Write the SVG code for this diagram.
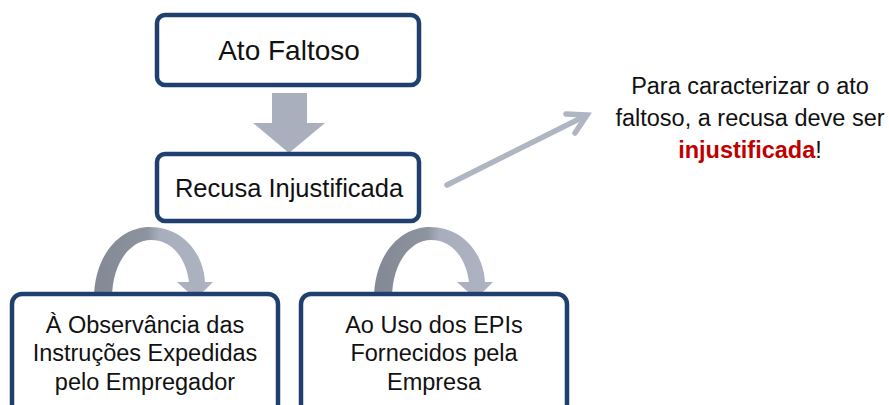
<svg xmlns="http://www.w3.org/2000/svg" width="889" height="405" viewBox="0 0 889 405">
<defs>
<style>
.box{fill:#fff;stroke:#1F406F;stroke-width:4.5}
.t{font-family:"Liberation Sans",Arial,sans-serif;fill:#111;text-anchor:middle}
.arc{fill:url(#g)}
</style>
<linearGradient id="g" x1="0" y1="0" x2="1" y2="0">
<stop offset="0" stop-color="#838895"/>
<stop offset="0.45" stop-color="#8E93A0"/>
<stop offset="0.55" stop-color="#A8AEBC"/>
<stop offset="1" stop-color="#ADB3C1"/>
</linearGradient>
</defs>
<rect width="889" height="405" fill="#fff"/>
<g id="connectors">
<path d="M272,93 H307 V123 H325 L289,153 L253,123 H272 Z" fill="#A9AFBD"/>
<path class="arc" d="M94,299 C94,255 120,227 150,227 C180,227 203,250 205,282 L213,282 L196,299 L177,282 L189,282 C186,258 172,240 151,240 C131,240 112,262 112,299 Z"/>
<path class="arc" transform="translate(280,0)" d="M94,299 C94,255 120,227 150,227 C180,227 203,250 205,282 L213,282 L196,299 L177,282 L189,282 C186,258 172,240 151,240 C131,240 112,262 112,299 Z"/>
<g stroke="#B0B5C3" stroke-width="5.5" fill="none" stroke-linecap="round" stroke-linejoin="miter">
<line x1="447" y1="185" x2="585" y2="116"/>
<polyline points="566,114 587,115 575,133"/>
</g>
</g>
<g id="n1">
<rect class="box" x="157" y="15" width="262" height="70" rx="8"/>
<text class="t" x="289" y="60" style="font-size:28px">Ato Faltoso</text>
</g>
<g id="n2">
<rect class="box" x="157" y="154" width="262" height="67" rx="8"/>
<text class="t" x="289" y="197" style="font-size:25.5px">Recusa Injustificada</text>
</g>
<g id="n3" style="font-size:23.5px">
<rect class="box" x="12" y="294" width="266" height="120" rx="10"/>
<text class="t" x="145" y="333">À Observância das</text>
<text class="t" x="145" y="361">Instruções Expedidas</text>
<text class="t" x="145" y="390">pelo Empregador</text>
</g>
<g id="n4" style="font-size:23.5px">
<rect class="box" x="301" y="294" width="266" height="120" rx="10"/>
<text class="t" x="434" y="333">Ao Uso dos EPIs</text>
<text class="t" x="434" y="361">Fornecidos pela</text>
<text class="t" x="434" y="390">Empresa</text>
</g>
<g id="note" style="font-size:23.5px">
<text class="t" x="750" y="94">Para caracterizar o ato</text>
<text class="t" x="750" y="126">faltoso, a recusa deve ser</text>
<text class="t" x="750" y="158"><tspan fill="#C00000" font-weight="bold">injustificada</tspan>!</text>
</g>
</svg>
